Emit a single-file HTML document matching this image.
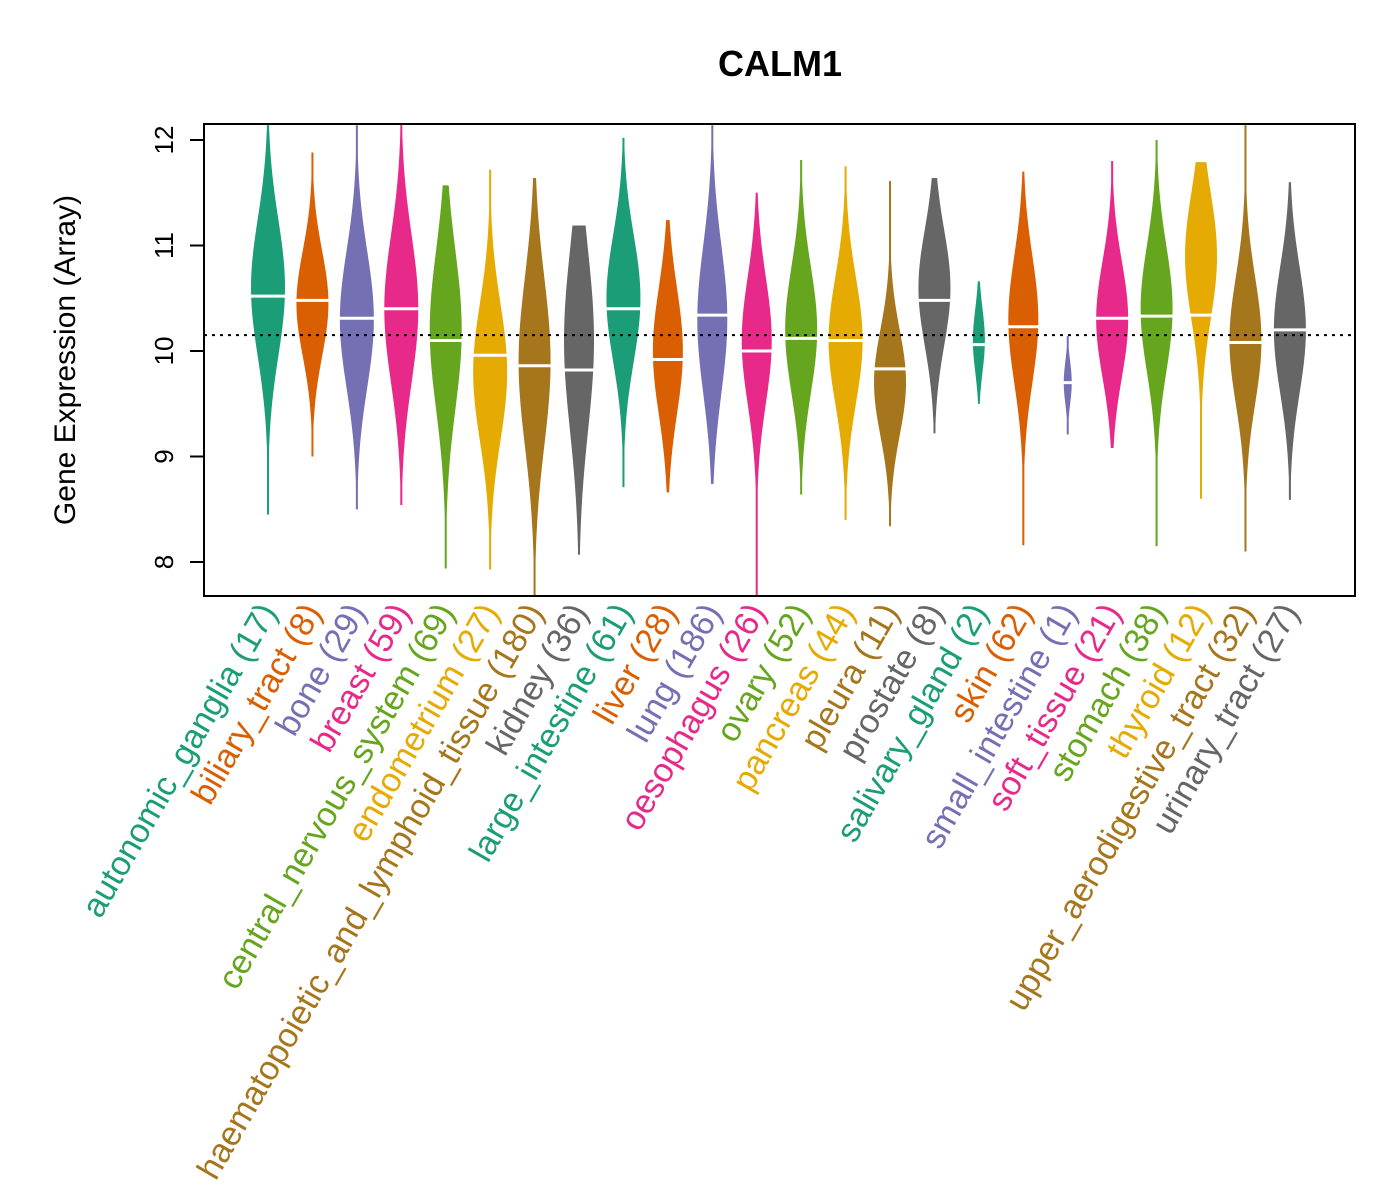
<!DOCTYPE html>
<html><head><meta charset="utf-8"><style>
html,body{margin:0;padding:0;background:#fff;}
svg{display:block;font-family:"Liberation Sans",sans-serif;}
</style></head><body>
<svg id="chart" width="1400" height="1200">
<rect width="1400" height="1200" fill="#fff"/>
<text x="780" y="76" font-size="36" font-weight="bold" text-anchor="middle">CALM1</text>
<text transform="translate(75,360) rotate(-90)" font-size="30" text-anchor="middle">Gene Expression (Array)</text>
<g id="plot"></g>
<rect x="204" y="124" width="1151" height="472" fill="none" stroke="#000" stroke-width="2"/>
</svg>
<script>
const categories=["autonomic_ganglia","biliary_tract","bone","breast","central_nervous_system","endometrium","haematopoietic_and_lymphoid_tissue","kidney","large_intestine","liver","lung","oesophagus","ovary","pancreas","pleura","prostate","salivary_gland","skin","small_intestine","soft_tissue","stomach","thyroid","upper_aerodigestive_tract","urinary_tract"];
const counts=[17,8,29,59,69,27,180,36,61,28,186,26,52,44,11,8,2,62,1,21,38,12,32,27];
const lows=[8.45,9.0,8.5,8.54,7.94,7.93,7.68,8.07,8.71,8.66,8.74,7.68,8.64,8.4,8.34,9.22,9.5,8.16,9.21,9.08,8.15,8.6,8.1,8.59];
const highs=[12.14,11.88,12.14,12.14,11.57,11.72,11.64,11.19,12.02,11.24,12.14,11.5,11.81,11.75,11.61,11.64,10.66,11.7,10.14,11.8,12.0,11.79,12.14,11.6];
const medians=[10.52,10.48,10.31,10.4,10.1,9.96,9.86,9.82,10.4,9.92,10.34,10.0,10.12,10.1,9.83,10.48,10.06,10.23,9.7,10.31,10.33,10.34,10.08,10.2];
const modes=[10.6,10.45,10.3,10.4,10.2,9.8,9.9,10.1,10.5,10.0,10.3,10.1,10.2,10.1,9.7,10.6,10.1,10.3,9.7,10.3,10.4,10.9,10.1,10.2];
const spreads=[0.65,0.5,0.65,0.7,0.75,0.65,0.8,0.85,0.6,0.6,0.7,0.6,0.6,0.6,0.5,0.55,0.3,0.6,0.2,0.55,0.6,0.6,0.6,0.6];
const widths=[17,16,17,17,16,17,16,15,17,15,15,15,16,17,16,16,6,15,4,16,16,16,16,16];
const meanLine=10.15;
const yTicks=[8,9,10,11,12];
const palette=["#1B9E77","#D95F02","#7570B3","#E7298A","#66A61E","#E6AB02","#A6761D","#666666"];
const NS="http://www.w3.org/2000/svg";
const yS=v=>562-(v-8)*105.5;
const xS=i=>268+i*44.43;
const g=document.getElementById('plot');
const svg=document.getElementById('chart');
function mk(t,a,p){const e=document.createElementNS(NS,t);for(const k in a)e.setAttribute(k,a[k]);(p||g).appendChild(e);return e;}
yTicks.forEach(t=>{
  const l=mk('line',{x1:190,x2:204,y1:yS(t),y2:yS(t),stroke:'#000','stroke-width':2});
  
  
  const tx=mk('text',{transform:`translate(${173},${yS(t)}) rotate(-90)`,'font-size':26,'text-anchor':'middle'});
  tx.textContent=t;
  
  
});
categories.forEach((c,i)=>{
  const col=palette[i%8],x=xS(i);
  const ln=mk('line',{x1:x,x2:x,y1:yS(lows[i]),y2:yS(highs[i]),stroke:col,'stroke-width':1.5});
  
  
  let L=[],R=[];const N=80;
  for(let k=0;k<=N;k++){const v=lows[i]+(highs[i]-lows[i])*k/N;
    const w=Math.max(1,widths[i]*Math.exp(-0.5*Math.pow((v-modes[i])/spreads[i],2)));
    R.push([x+w,yS(v)]);L.unshift([x-w,yS(v)]);}
  const p=mk('polygon',{points:R.concat(L).map(q=>q.join(',')).join(' '),fill:col});
  
  
  const m=mk('line',{x1:x-widths[i]-2,x2:x+widths[i]+2,y1:yS(medians[i]),y2:yS(medians[i]),stroke:'#fff','stroke-width':3});
  
  
  const t=mk('text',{transform:`translate(${x+10},${612}) rotate(-60)`,'font-size':34,'text-anchor':'end',fill:col},svg);
  t.textContent=c+' ('+counts[i]+')';
  
  
});
const d=mk('line',{x1:204,x2:1355,y1:yS(meanLine),y2:yS(meanLine),stroke:'#000','stroke-width':2,'stroke-dasharray':'3,5'});


</script>
</body></html>
